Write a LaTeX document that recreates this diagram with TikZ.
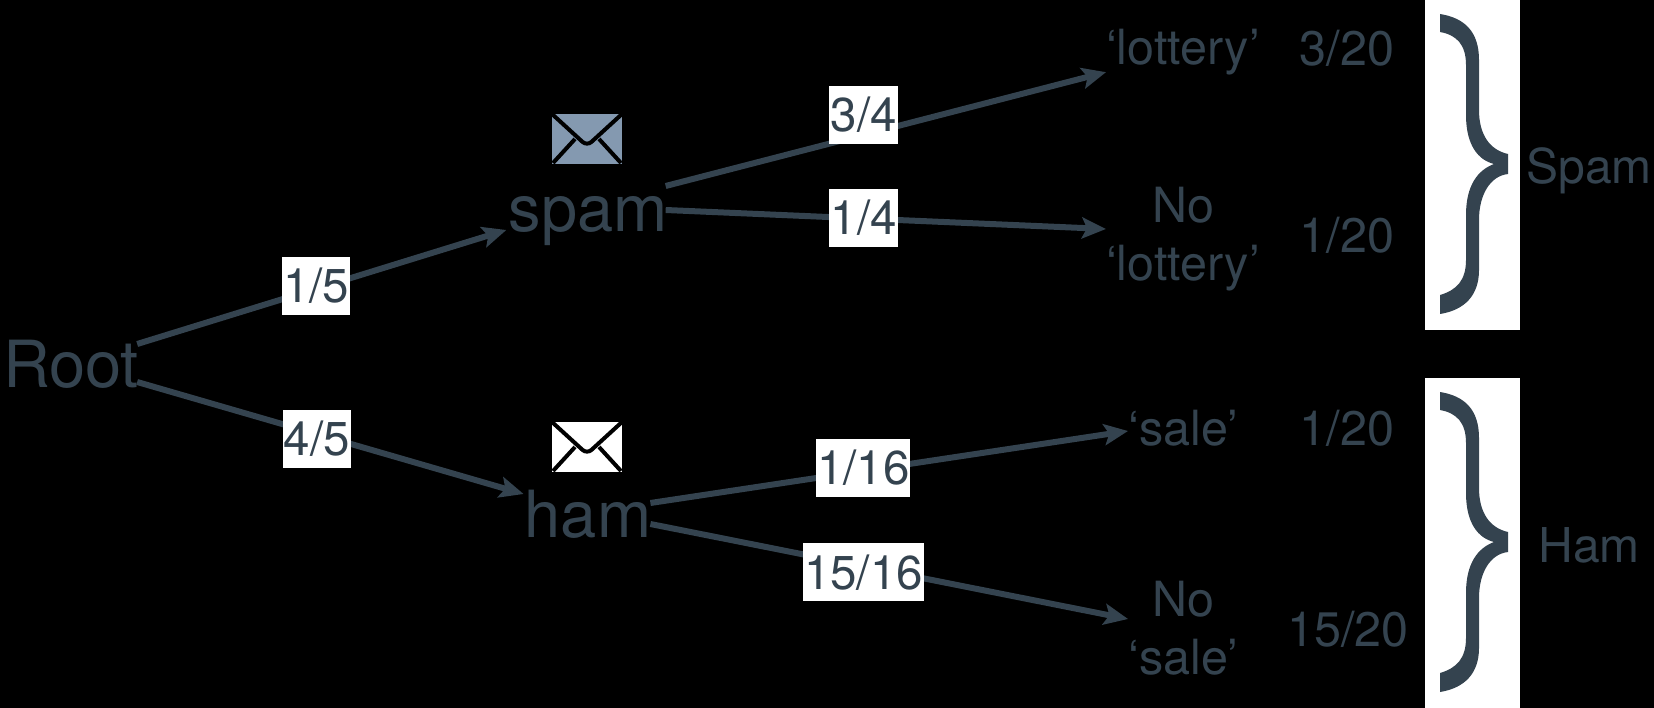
\documentclass[tikz,border=0pt]{standalone}
\usepackage{fontspec}
\setmainfont{TeX Gyre Heros}
\usetikzlibrary{arrows.meta}
\definecolor{slate}{HTML}{34434F}
\definecolor{mailblue}{HTML}{8499B0}
\tikzset{
    big/.style={text=slate, inner sep=0pt, anchor=base, font=\fontsize{65}{70}\selectfont},
    leaf/.style={text=slate, inner sep=0pt, align=center, font=\fontsize{48.5}{58}\selectfont},
    tag/.style={text=slate, inner sep=0pt, font=\fontsize{48}{50}\selectfont},
    frac/.style={fill=white, text=slate, inner sep=0pt, minimum height=58pt, font=\fontsize{47.5}{50}\selectfont},
    branch/.style={draw=slate, line width=6pt, -{Stealth[length=24pt,width=21pt,inset=5pt]}},
}
\begin{document}
\begin{tikzpicture}[x=1pt, y=-1pt]
    \fill[black] (0,0) rectangle (1654,708);
    \useasboundingbox (0,0) rectangle (1654,708);
    % Fondo de las llaves
    \fill[white] (1425,0) rectangle (1520,330);
    \fill[white] (1425,378) rectangle (1520,708);
    % Nodos del arbol
    \node[big] (root) at (71,388) {Root};
    \node[big] (spam) at (588,232) {spam};
    \node[big] (ham) at (588,537) {ham};
    \node[leaf] (lot) at (1183,52) {‘lottery’};
    \node[leaf] (nolot) at (1183,239) {No\\‘lottery’};
    \node[leaf] (sale) at (1183,428) {‘sale’};
    \node[leaf] (nosale) at (1183,628) {No\\‘sale’};
    % Ramas
    \draw[branch] ([shift={(-2pt,44pt)}]root.base east) --
        node[frac, minimum width=68pt, pos=.485, yshift=3pt] (f15) {1/5}
        ([shift={(-2pt,2pt)}]spam.base west);
    \draw[branch] ([shift={(-2pt,6pt)}]root.base east) --
        node[frac, minimum width=68pt, pos=.465, yshift=-5pt] (f45) {4/5}
        ([shift={(-1pt,43pt)}]ham.base west);
    \draw[branch] ([shift={(-2pt,46pt)}]spam.base east) --
        node[frac, minimum width=69pt, pos=.45, yshift=20pt] (f34) {3/4}
        ([yshift=3pt]lot.south west);
    \draw[branch] ([shift={(-2pt,22pt)}]spam.base east) --
        node[frac, minimum width=69pt, pos=.45, yshift=1pt] (f14) {1/4}
        ([yshift=10pt]nolot.west);
    \draw[branch] ([shift={(-1pt,34pt)}]ham.base east) --
        node[frac, minimum width=94pt, pos=.446, yshift=3pt] (f116) {1/16}
        ([yshift=-3pt]sale.west);
    \draw[branch] ([shift={(-1pt,13pt)}]ham.base east) --
        node[frac, minimum width=121pt, pos=.446, yshift=-6pt] (f1516) {15/16}
        ([yshift=9pt]nosale.west);
    % Sobres
    \foreach \ytop/\mailcol in {114/mailblue,422/white}
    {
        \fill[\mailcol] (552,\ytop) rectangle (622,\ytop+50);
        \draw[black, line width=4pt, rounded corners=6pt]
            (552,\ytop) -- (587,\ytop+32) -- (622,\ytop);
        \draw[black, line width=4pt] (553,\ytop+49) -- (575,\ytop+25);
        \draw[black, line width=4pt] (621,\ytop+49) -- (599,\ytop+25);
    }
    % Probabilidades
    \node[leaf] (p1) at (1347,48) {3/20};
    \node[leaf] (p2) at (1347,235) {1/20};
    \node[leaf] (p3) at (1347,428) {1/20};
    \node[leaf] (p4) at (1348,629) {15/20};
    % Llaves
    \foreach \yshift in {0,378}
    \fill[slate, yshift=-\yshift pt] (1440,14)
        .. controls (1465,18) and (1479,32) .. (1479,60)
        -- (1479,110)
        .. controls (1479,135) and (1490,150) .. (1508,154)
        -- (1508,174)
        .. controls (1490,176) and (1479,195) .. (1479,220)
        -- (1479,270)
        .. controls (1479,295) and (1465,310) .. (1440,314)
        -- (1440,295)
        .. controls (1457,290) and (1466,280) .. (1466,260)
        -- (1466,215)
        .. controls (1466,185) and (1478,170) .. (1494,164)
        .. controls (1478,160) and (1466,145) .. (1466,115)
        -- (1466,65)
        .. controls (1466,45) and (1457,35) .. (1440,32)
        -- cycle;
    \node[tag] (spamlab) at (1589,171) {Spam};
    \node[tag] (hamlab) at (1589,545) {Ham};
\end{tikzpicture}
\end{document}
